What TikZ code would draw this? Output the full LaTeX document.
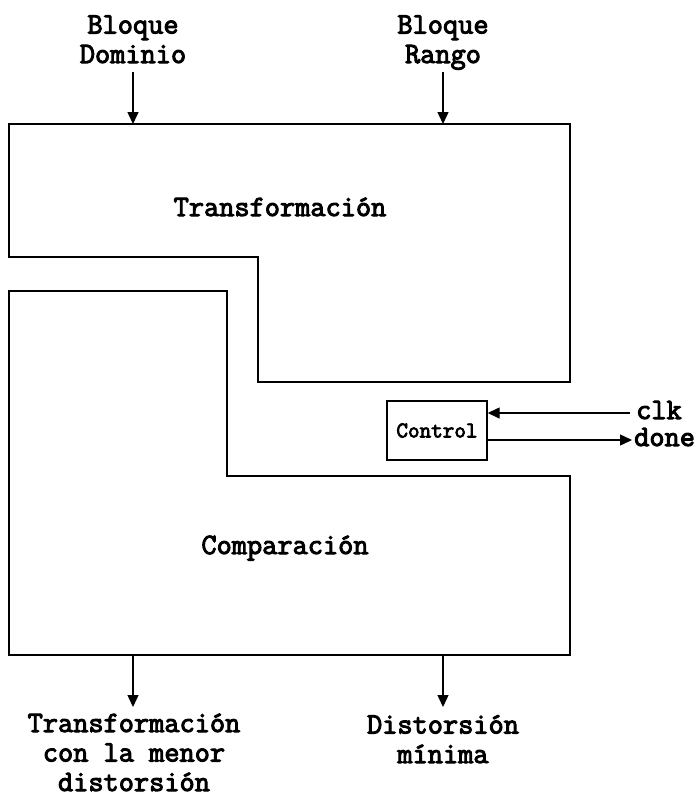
\documentclass[tikz,border=0pt]{standalone}
\usepackage{fontspec}
\newfontfamily\typewr[FakeBold=3.4]{Latin Modern Mono}
\usetikzlibrary{arrows.meta}
\begin{document}
\begin{tikzpicture}[x=1pt,y=-1pt,
  block/.style={draw=black,line width=1.6pt,line join=miter},
  lbl/.style={font=\fontsize{29.5}{29.5}\selectfont\typewr,align=center,inner sep=0pt,anchor=base},
  sig/.style={font=\fontsize{29.5}{29.5}\selectfont\typewr,inner sep=0pt,anchor=base west},
  ctrlbox/.style={draw=black,line width=1.4pt,minimum width=100pt,minimum height=59pt,
    inner sep=0pt,font=\fontsize{22.5}{24}\selectfont\typewr},
  arr/.style={line width=1.4pt,-{Triangle[length=12pt,width=11pt]}}]
\useasboundingbox (0,0) rectangle (697,796);

% Transformation block (upper, L-shaped)
\draw[block] (9,124) -- (570,124) -- (570,382) -- (258,382) -- (258,257) -- (9,257) -- cycle;
\node[lbl] (trans) at (280,216) {Transformación};

% Comparison block (lower, L-shaped)
\draw[block] (9,291) -- (227,291) -- (227,476) -- (570,476) -- (570,655) -- (9,655) -- cycle;
\node[lbl] (comp) at (285,554) {Comparación};

% Control unit
\node[ctrlbox] (ctrl) at (437,430.5) {Control};

% Inputs (anchored at the baseline of the last line)
\node[lbl] (dom) at (133,63) {Bloque\\Dominio};
\node[lbl] (rng) at (443,63) {Bloque\\Rango};
\coordinate (domOut) at (133,72);
\coordinate (rngOut) at (443,72);
\coordinate (domIn) at (133,124);
\coordinate (rngIn) at (443,124);
\draw[arr] (domOut) -- (domIn);
\draw[arr] (rngOut) -- (rngIn);

% Outputs
\coordinate (bestOut) at (133,655);
\coordinate (distOut) at (443,655);
\coordinate (bestEnd) at (133,707);
\coordinate (distEnd) at (443,707);
\draw[arr] (bestOut) -- (bestEnd);
\draw[arr] (distOut) -- (distEnd);
\node[lbl] (best) at (134,791) {Transformación\\con la menor\\distorsión};
\node[lbl] (dist) at (443,763) {Distorsión\\mínima};

% Control signals
\node[sig] (clk) at (636,419) {clk};
\node[sig] (done) at (634,446) {done};
\coordinate (clkIn) at (630,413);
\coordinate (doneEnd) at (632,440);
\draw[arr] (clkIn) -- (ctrl.east |- clkIn);
\draw[arr] (ctrl.east |- doneEnd) -- (doneEnd);
\end{tikzpicture}
\end{document}
